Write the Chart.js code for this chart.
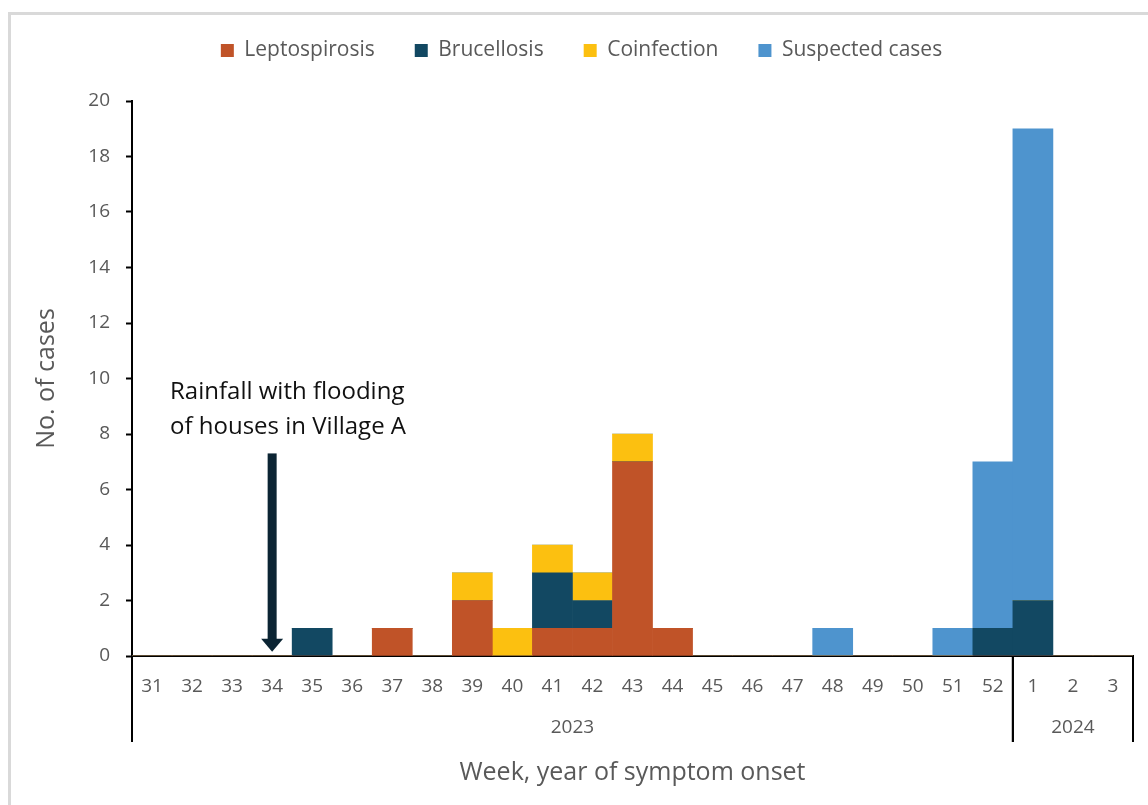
<!DOCTYPE html>
<html>
<head>
<meta charset="utf-8">
<script src="https://cdn.jsdelivr.net/npm/chart.js@4"></script>
<style>
  html, body { margin: 0; padding: 0; background: #fff; overflow: hidden; }
  #wrap { position: relative; width: 1148px; height: 805px; }
  #frame { position: absolute; left: 8px; top: 12px; width: 1200px; height: 900px;
           border-top: 3px solid #d9d9d9; border-left: 3px solid #d9d9d9; pointer-events: none; }
</style>
</head>
<body>
<div id="wrap">
  <canvas id="chart" width="1148" height="805"></canvas>
  <div id="frame"></div>
</div>
<script>
// weeks of symptom onset (2023 wk 31-52, 2024 wk 1-3)
const weeks = ['31','32','33','34','35','36','37','38','39','40','41','42','43','44','45','46','47','48','49','50','51','52','1','2','3'];
const leptospirosis = [0,0,0,0,0,0,1,0,2,0,1,1,7,1,0,0,0,0,0,0,0,0,0,0,0];
const brucellosis   = [0,0,0,0,1,0,0,0,0,0,2,1,0,0,0,0,0,0,0,0,0,1,2,0,0];
const coinfection   = [0,0,0,0,0,0,0,0,1,1,1,1,1,0,0,0,0,0,0,0,0,0,0,0,0];
const suspected     = [0,0,0,0,0,0,0,0,0,0,0,0,0,0,0,0,0,1,0,0,1,6,17,0,0];

const years = ['2023', '2024'];
const yearFirstWeek = ['31', '1'];
const yearLastWeek = ['52', '3'];

// arrow note
const noteWeek = '34';
const noteLines = ['Rainfall with flooding', 'of houses in Village A'];

const grey = '#595959';
const fontName = '"Open Sans", sans-serif';

const yearRow = {
  id: 'yearRow',
  afterDraw(chart) {
    const ctx = chart.ctx;
    const x = chart.scales.x;
    const half = (x.getPixelForValue(1) - x.getPixelForValue(0)) / 2;
    const top = x.top;
    ctx.save();
    ctx.strokeStyle = '#000';
    ctx.lineWidth = 2;
    ctx.fillStyle = grey;
    ctx.font = '19px ' + fontName;
    ctx.textAlign = 'center';
    ctx.textBaseline = 'middle';
    for (let i = 0; i < years.length; i++) {
      const left = x.getPixelForValue(weeks.indexOf(yearFirstWeek[i])) - half;
      const right = x.getPixelForValue(weeks.indexOf(yearLastWeek[i])) + half;
      ctx.beginPath();
      ctx.moveTo(left, top);
      ctx.lineTo(left, top + 86);
      ctx.moveTo(right, top);
      ctx.lineTo(right, top + 86);
      ctx.stroke();
      ctx.fillText(years[i], (left + right) / 2, top + 72);
    }
    ctx.restore();
  }
};

const arrowNote = {
  id: 'arrowNote',
  afterDatasetsDraw(chart) {
    const ctx = chart.ctx;
    const {x, y} = chart.scales;
    const ax = x.getPixelForValue(weeks.indexOf(noteWeek));
    const yTop = y.getPixelForValue(7.3);
    const yTip = y.getPixelForValue(0.15);
    ctx.save();
    ctx.fillStyle = '#0b2433';
    ctx.fillRect(ax - 4.5, yTop, 9, yTip - 12 - yTop);
    ctx.beginPath();
    ctx.moveTo(ax - 11, yTip - 13);
    ctx.lineTo(ax + 11, yTip - 13);
    ctx.lineTo(ax, yTip);
    ctx.closePath();
    ctx.fill();
    ctx.fillStyle = '#111';
    ctx.font = '24px ' + fontName;
    ctx.textAlign = 'left';
    ctx.textBaseline = 'middle';
    const tx = x.getPixelForValue(weeks.indexOf('32')) - 22;
    const ty = y.getPixelForValue(9.5);
    for (let i = 0; i < noteLines.length; i++) {
      ctx.fillText(noteLines[i], tx, ty + i * 35);
    }
    ctx.restore();
  }
};

new Chart(document.getElementById('chart'), {
  type: 'bar',
  data: {
    labels: weeks,
    datasets: [
      { label: 'Leptospirosis', data: leptospirosis, backgroundColor: '#c05328' },
      { label: 'Brucellosis', data: brucellosis, backgroundColor: '#124862' },
      { label: 'Coinfection', data: coinfection, backgroundColor: '#fcc010' },
      { label: 'Suspected cases', data: suspected, backgroundColor: '#4e94ce' }
    ]
  },
  options: {
    responsive: false,
    animation: false,
    events: [],
    barPercentage: 1,
    categoryPercentage: 1,
    layout: { padding: { top: 0, left: 30, right: 15, bottom: 0 } },
    plugins: {
      tooltip: { enabled: false },
      legend: {
        position: 'top',
        weight: 2500,
        labels: {
          color: grey,
          font: { family: fontName, size: 21 },
          boxWidth: 13,
          boxHeight: 13,
          padding: 40
        }
      },
      // empty spacer between legend and plot
      subtitle: {
        display: true,
        text: '',
        font: { size: 10 },
        padding: { top: 9, bottom: 9 }
      }
    },
    scales: {
      x: {
        stacked: true,
        grid: { display: true, drawOnChartArea: false, drawTicks: false },
        border: { color: '#000', width: 2 },
        ticks: { color: grey, font: { family: fontName, size: 19 }, padding: 19, maxRotation: 0, autoSkip: false },
        title: {
          display: true,
          text: 'Week, year of symptom onset',
          color: grey,
          font: { family: fontName, size: 25 },
          padding: { top: 0, bottom: 17 }
        },
        afterFit(scale) { scale.height = 149; }
      },
      y: {
        stacked: true,
        min: 0,
        max: 20,
        ticks: { stepSize: 2, color: grey, font: { family: fontName, size: 19 }, padding: 16 },
        grid: { drawOnChartArea: false, drawTicks: true, tickLength: 6, tickColor: '#000', tickWidth: 2 },
        border: { color: '#000', width: 2 },
        title: {
          display: true,
          text: 'No. of cases',
          color: grey,
          font: { family: fontName, size: 25 },
          padding: { top: 2, bottom: 0 }
        },
        afterFit(scale) { scale.width = 102; }
      }
    }
  },
  plugins: [yearRow, arrowNote]
});
</script>
</body>
</html>
